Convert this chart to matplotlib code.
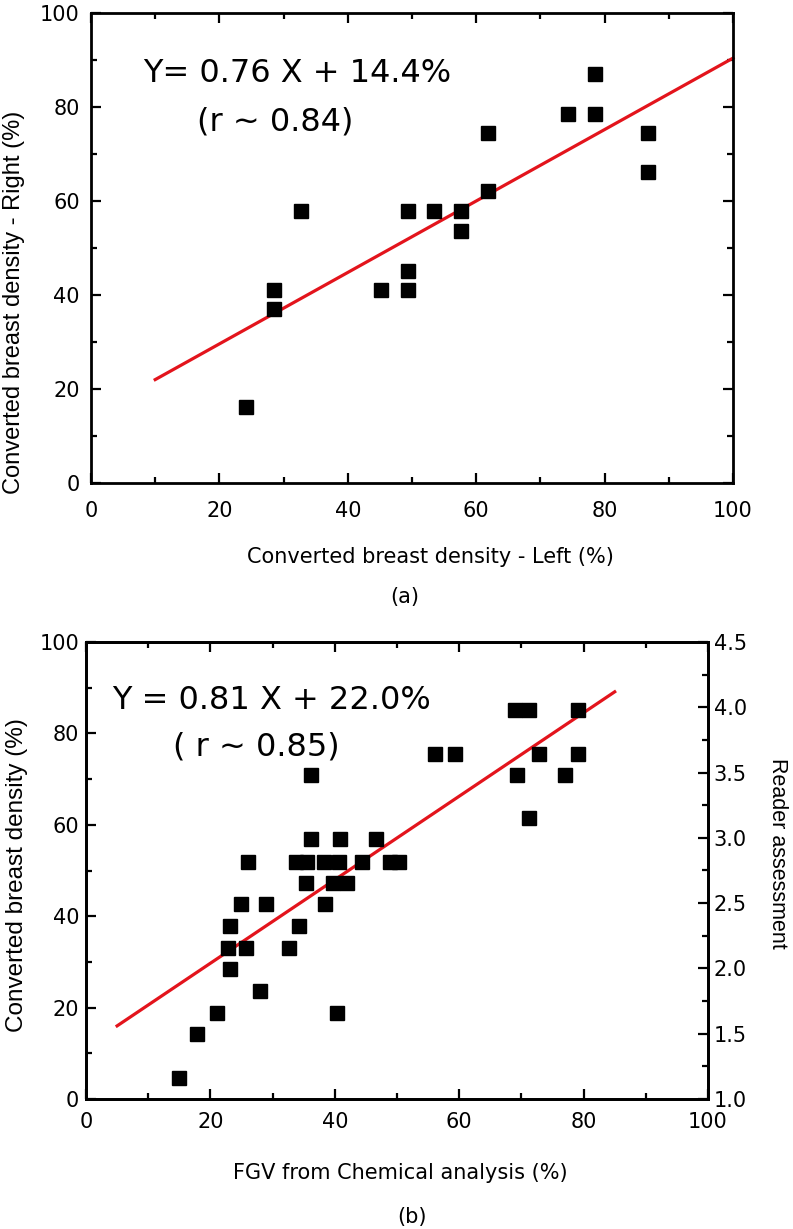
import matplotlib
matplotlib.use("Agg")
import matplotlib.pyplot as plt
from matplotlib.ticker import MultipleLocator

plt.rcParams['font.family'] = ['DejaVu Sans']

# panel (a): left vs right converted density
left_a = [24.2, 28.5, 28.5, 32.7, 45.1, 49.3, 49.3, 49.3, 53.4, 57.7, 57.7,
          61.8, 61.8, 74.3, 78.5, 78.5, 86.8, 86.8]
right_a = [16.1, 41.1, 37.1, 57.8, 41.1, 41.1, 45.2, 57.8, 57.8, 57.8, 53.6,
           62.1, 74.5, 78.6, 78.6, 87.0, 74.5, 66.1]
fit_a_x = [10, 100]
fit_a_y = [22.0, 90.4]

# panel (b): FGV chemical analysis vs converted density
fgv_b = [14.9, 17.9, 21.1, 40.3, 27.9, 23.1, 22.8, 25.7, 32.6, 23.1, 34.2,
         24.9, 28.9, 38.5, 35.3, 39.7, 42.0, 26.1, 33.8, 35.6, 38.3, 40.7,
         44.4, 48.8, 50.3, 36.2, 40.8, 46.7, 36.2, 69.3, 77.0, 56.1, 59.3,
         72.8, 79.1, 69.0, 71.2, 79.1, 71.2]
dens_b = [4.7, 14.2, 18.9, 18.9, 23.6, 28.4, 33.1, 33.1, 33.1, 37.9, 37.9,
          42.6, 42.6, 42.6, 47.2, 47.2, 47.2, 51.9, 51.9, 51.9, 51.9, 51.9,
          51.9, 51.9, 51.9, 56.8, 56.8, 56.8, 70.9, 70.9, 70.9, 75.6, 75.6,
          75.6, 75.6, 85.1, 85.1, 85.1, 61.4]
fit_b_x = [5, 85]
fit_b_y = [16.0, 89.1]

RED = '#e3141c'
W, H = 793, 1229
NARROW = ['Liberation Sans', 'DejaVu Sans']

fig = plt.figure(figsize=(W / 100, H / 100), dpi=100)


def style(ax, xpad, ypad, right=True):
    for s in ax.spines.values():
        s.set_linewidth(2.0)
    ax.xaxis.set_major_locator(MultipleLocator(20))
    ax.xaxis.set_minor_locator(MultipleLocator(10))
    ax.yaxis.set_major_locator(MultipleLocator(20))
    ax.yaxis.set_minor_locator(MultipleLocator(10))
    ax.tick_params(which='both', direction='in', top=True, right=right,
                   width=1.6, labelsize=15)
    ax.tick_params(which='major', length=7)
    ax.tick_params(which='minor', length=4)
    ax.tick_params(axis='x', which='both', pad=xpad)
    ax.tick_params(axis='y', which='both', pad=ypad)


# ---- (a)
ax1 = fig.add_axes([91 / W, 1 - 483 / H, 642 / W, 470 / H])
ax1.plot(left_a, right_a, 's', color='black', ms=9.5, zorder=3)
ax1.plot(fit_a_x, fit_a_y, '-', color=RED, lw=2.3, zorder=2, clip_on=False)
ax1.set_xlim(0, 100)
ax1.set_ylim(0, 100)
style(ax1, 13, 8)
ax1.text(143 / W, 1 - 73 / H, 'Y= 0.76 X + 14.4%', transform=fig.transFigure,
         fontsize=23, va='center', ha='left')
ax1.text(197 / W, 1 - 122 / H, '(r ~ 0.84)', transform=fig.transFigure,
         fontsize=23, va='center', ha='left')
fig.text(430 / W, 1 - 557 / H, 'Converted breast density - Left (%)',
         fontsize=15, ha='center', va='center')
fig.text(14 / W, 1 - 302 / H, 'Converted breast density - Right (%)',
         fontsize=17, ha='center', va='center', rotation=90, family=NARROW)
fig.text(405 / W, 1 - 597 / H, '(a)', fontsize=15, ha='center', va='center')

# ---- (b)
ax2 = fig.add_axes([86 / W, 1 - 1099 / H, 622 / W, 457 / H])
ax2.plot(fgv_b, dens_b, 's', color='black', ms=9.5, zorder=3)
ax2.plot(fit_b_x, fit_b_y, '-', color=RED, lw=2.3, zorder=2)
ax2.set_xlim(0, 100)
ax2.set_ylim(0, 100)
style(ax2, 9, 5, right=False)
ax2.text(112 / W, 1 - 700 / H, 'Y = 0.81 X + 22.0%', transform=fig.transFigure,
         fontsize=23, va='center', ha='left')
ax2.text(173 / W, 1 - 747 / H, '( r ~ 0.85)', transform=fig.transFigure,
         fontsize=23, va='center', ha='left')

ax3 = ax2.twinx()
ax3.set_ylim(1.0, 4.5)
ax3.yaxis.set_major_locator(MultipleLocator(0.5))
ax3.yaxis.set_minor_locator(MultipleLocator(0.25))
ax3.yaxis.set_major_formatter(plt.FormatStrFormatter('%.1f'))
ax3.tick_params(which='both', direction='in', width=1.6, labelsize=15, pad=4)
ax3.tick_params(which='major', length=7)
ax3.tick_params(which='minor', length=4)
for s in ax3.spines.values():
    s.set_linewidth(2.0)
fig.text(777 / W, 1 - 853 / H, 'Reader assessment', fontsize=15.5,
         ha='center', va='center', rotation=-90, family=NARROW)
fig.text(17 / W, 1 - 875 / H, 'Converted breast density (%)', fontsize=17.5,
         ha='center', va='center', rotation=90, family=NARROW)
fig.text(400 / W, 1 - 1173 / H, 'FGV from Chemical analysis (%)', fontsize=15,
         ha='center', va='center')
fig.text(412 / W, 1 - 1217 / H, '(b)', fontsize=15, ha='center', va='center')

fig.savefig('out.png', dpi=100)
